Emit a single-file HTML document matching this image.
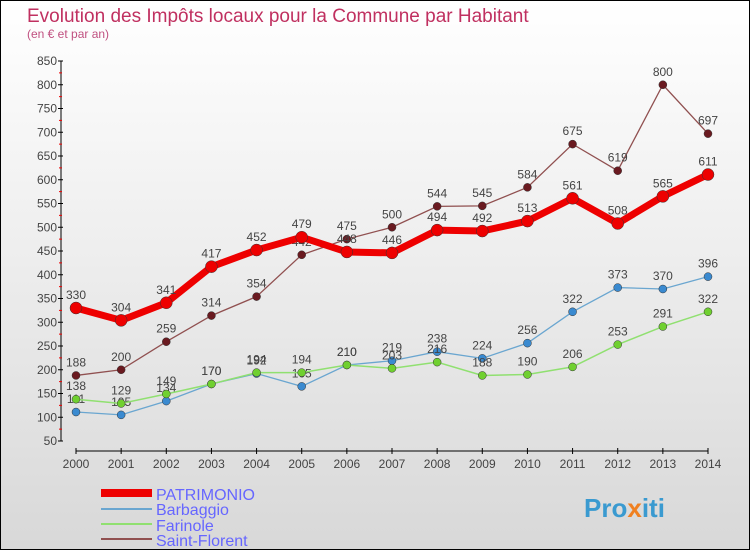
<!DOCTYPE html>
<html><head><meta charset="utf-8"><style>
body{margin:0}
#c{position:relative;width:748px;height:548px;border:1px solid #000;background:linear-gradient(#fff,#f0f0f0 40%,#d8d8d8 100%);overflow:hidden;font-family:"Liberation Sans",sans-serif}
</style></head><body>
<div id="c">
<svg id="s" width="748" height="548" style="position:absolute;left:0;top:0">
<text x="26" y="21" font-size="19" fill="#c03060">Evolution des Impôts locaux pour la Commune par Habitant</text>
<text x="26" y="37" font-size="12" fill="#c05080">(en € et par an)</text>
<g id="axes"></g><g id="series"></g>
<g>
<line x1="100" y1="492" x2="151" y2="492" stroke="#e00" stroke-width="8"/>
<text x="155" y="499" font-size="16" fill="#6666ff">PATRIMONIO</text>
<line x1="100" y1="508" x2="151" y2="508" stroke="#6aa6d0" stroke-width="2"/>
<text x="155" y="514" font-size="16" fill="#6666ff">Barbaggio</text>
<line x1="100" y1="523" x2="151" y2="523" stroke="#90e070" stroke-width="2"/>
<text x="155" y="530" font-size="16" fill="#6666ff">Farinole</text>
<line x1="100" y1="538" x2="151" y2="538" stroke="#905050" stroke-width="2"/>
<text x="155" y="545" font-size="16" fill="#6666ff">Saint-Florent</text>
</g>
<text x="583" y="516" font-size="26" font-weight="bold" fill="#3a9ad0">Pro<tspan fill="#f08020">x</tspan>iti</text>
</svg>
</div>
<script>
const years=[2000,2001,2002,2003,2004,2005,2006,2007,2008,2009,2010,2011,2012,2013,2014];
const yTicks=[50,100,150,200,250,300,350,400,450,500,550,600,650,700,750,800,850];
const patrimonio=[330,304,341,417,452,479,448,446,494,492,513,561,508,565,611];
const barbaggio=[111,105,134,170,192,165,210,219,238,224,256,322,373,370,396];
const farinole=[138,129,149,170,194,194,210,203,216,188,190,206,253,291,322];
const saintFlorent=[188,200,259,314,354,442,475,500,544,545,584,675,619,800,697];
const NS='http://www.w3.org/2000/svg';
function X(i){return 75+(707-75)*i/(years.length-1);}
function Y(v){return 440-(v-50)*380/800;}
function mk(p,t,a){const e=document.createElementNS(NS,t);for(const k in a)e.setAttribute(k,a[k]);p.appendChild(e);return e;}
const ax=document.getElementById('axes');
let l=mk(ax,'line',{x1:60,y1:Y(850),x2:60,y2:Y(50),stroke:'#000'});


l=mk(ax,'line',{x1:X(0),y1:450,x2:X(14),y2:450,stroke:'#000'});


yTicks.forEach(v=>{
 mk(ax,'line',{x1:57,y1:Y(v),x2:62,y2:Y(v),stroke:'#000'});
 if(v<850)mk(ax,'line',{x1:58,y1:Y(v+25),x2:61,y2:Y(v+25),stroke:'#e00'});
 const t=mk(ax,'text',{x:56,y:Y(v)+4,'font-size':12,fill:'#444','text-anchor':'end'});
 t.textContent=v;
 
 
});
years.forEach((yr,i)=>{
 mk(ax,'line',{x1:X(i),y1:447,x2:X(i),y2:453,stroke:'#000'});
 const t=mk(ax,'text',{x:X(i),y:467,'font-size':12,fill:'#444','text-anchor':'middle'});
 t.textContent=yr;
 
 
});
const sg=document.getElementById('series');
function draw(vals,name,color,w,r,dot){
 const g=mk(sg,'g',{});
 
 
 const pl=mk(g,'polyline',{points:vals.map((v,i)=>X(i)+','+Y(v)).join(' '),fill:'none',stroke:color,'stroke-width':w});
 
 
 vals.forEach((v,i)=>{
  const c=mk(g,'circle',{cx:X(i),cy:Y(v),r:r,fill:dot,stroke:'#333','stroke-width':0.5});
  
  
  const t=mk(g,'text',{x:X(i),y:Y(v)-9,'font-size':12,fill:'#444','text-anchor':'middle'});
  t.textContent=v;
  
  
 });
}
draw(saintFlorent,'saint-florent','#905050',1.3,4,'#6a1a20');
draw(barbaggio,'barbaggio','#6aa6d0',1.3,4,'#3a8ad0');
draw(farinole,'farinole','#90e070',1.5,4,'#70d030');
draw(patrimonio,'patrimonio','#e00',7,6,'#e00');
</script>
</body></html>
